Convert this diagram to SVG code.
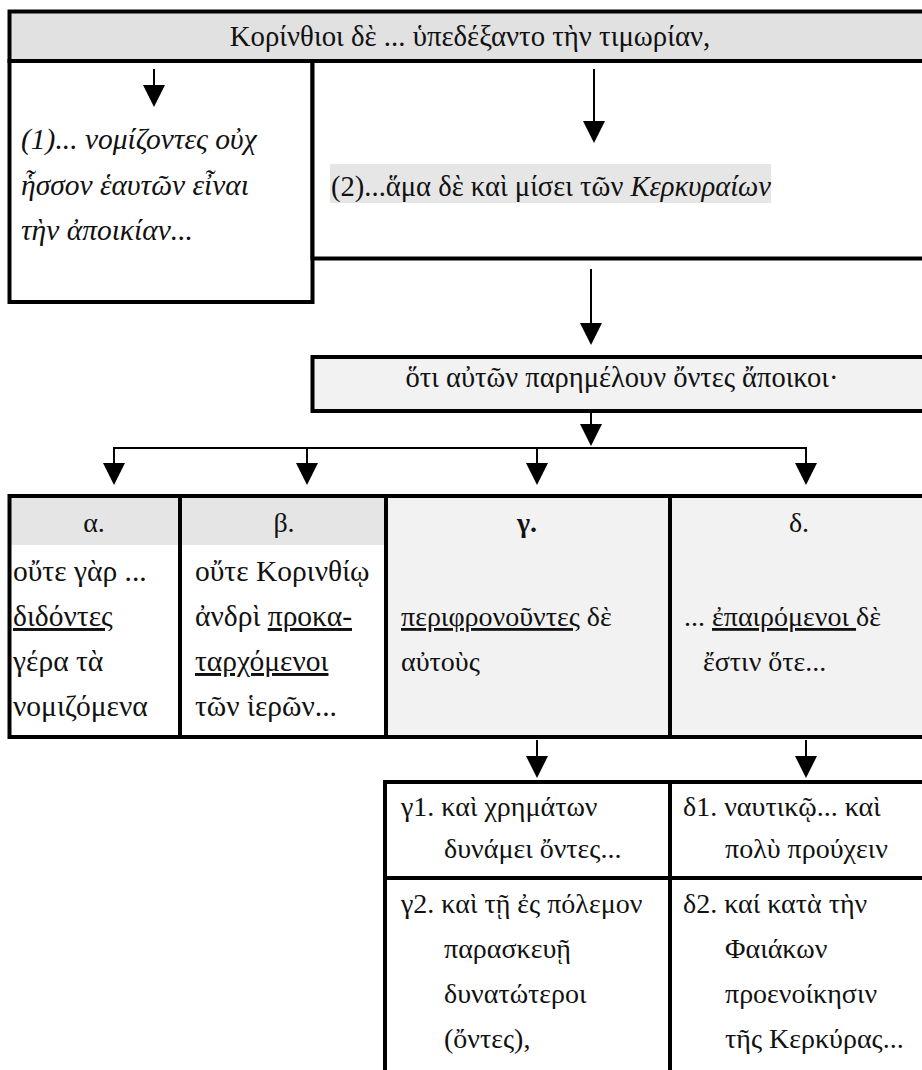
<svg xmlns="http://www.w3.org/2000/svg" width="922" height="1070" viewBox="0 0 922 1070" font-family="Liberation Serif, DejaVu Serif, serif" font-size="28">
<defs>
<marker id="ah" viewBox="0 0 22 22" refX="17" refY="11" markerWidth="22" markerHeight="22" markerUnits="userSpaceOnUse" orient="auto">
<path d="M0,0 L22,11 L0,22 Z" fill="#000"/>
</marker>
<style>
text{fill:#111}
.i{font-style:italic}
.b{font-weight:bold}
.c{text-anchor:middle}
.u{text-decoration:underline}
.box{stroke:#000;stroke-width:4}
.ln{stroke:#000;stroke-width:2;fill:none}
</style>
</defs>
<rect width="922" height="1070" fill="#fff"/>
<g id="header">
<rect class="box" x="9.5" y="11.5" width="925" height="49.5" fill="#e1e1e1"/>
<text class="c" x="470" y="46" font-size="28.8">Κορίνθιοι δὲ ... ὑπεδέξαντο τὴν τιμωρίαν,</text>
</g>
<g id="reason1">
<rect class="box" x="9.5" y="61" width="303" height="241" fill="#fff"/>
<text class="i" x="21" y="149" font-size="29.5">(1)... νομίζοντες οὐχ</text>
<text class="i" x="21" y="195" font-size="29.5">ἧσσον ἑαυτῶν εἶναι</text>
<text class="i" x="21" y="240" font-size="29.5">τὴν ἀποικίαν...</text>
</g>
<g id="reason2">
<rect class="box" x="312.5" y="61" width="622" height="197.5" fill="#fff"/>
<rect x="330" y="164" width="441" height="39" fill="#e6e6e6"/>
<text x="331" y="196" font-size="28.6">(2)...ἅμα δὲ καὶ μίσει τῶν <tspan class="i">Κερκυραίων</tspan></text>
</g>
<g id="cause">
<rect class="box" x="312.5" y="357" width="622" height="54" fill="#f2f2f2"/>
<text class="c" x="622" y="387" font-size="28.5">ὅτι αὐτῶν παρημέλουν ὄντες ἄποικοι·</text>
</g>
<g id="table1">
<rect x="11" y="498" width="168" height="47" fill="#e5e5e5"/>
<rect x="181" y="498" width="204" height="47" fill="#e5e5e5"/>
<rect x="387" y="498" width="282" height="238" fill="#f2f2f2"/>
<rect x="671" y="498" width="260" height="238" fill="#f2f2f2"/>
<rect class="box" x="9.5" y="496" width="925" height="241" fill="none"/>
<line class="box" x1="180" y1="496" x2="180" y2="737"/>
<line class="box" x1="386" y1="496" x2="386" y2="737"/>
<line class="box" x1="670" y1="496" x2="670" y2="737"/>
</g>
<g id="alpha" font-size="29.5">
<text class="c" x="94" y="532" font-size="28">α.</text>
<text x="13" y="581">οὔτε γὰρ ...</text>
<text x="13" y="626"><tspan class="u">διδόντες</tspan></text>
<text x="13" y="671">γέρα τὰ</text>
<text x="13" y="716">νομιζόμενα</text>
</g>
<g id="beta" font-size="29.5">
<text class="c" x="284" y="532" font-size="28">β.</text>
<text x="195" y="581">οὔτε Κορινθίῳ</text>
<text x="195" y="626">ἀνδρὶ <tspan class="u">προκα-</tspan></text>
<text x="195" y="671"><tspan class="u">ταρχόμενοι</tspan></text>
<text x="195" y="716">τῶν ἱερῶν...</text>
</g>
<g id="gamma">
<text class="c b" x="527" y="532">γ.</text>
<text x="401" y="626"><tspan class="u">περιφρονοῦντες</tspan> δὲ</text>
<text x="401" y="671">αὐτοὺς</text>
</g>
<g id="delta">
<text class="c" x="799" y="532">δ.</text>
<text x="684" y="626">... <tspan class="u">ἐπαιρόμενοι </tspan>δὲ</text>
<text x="703" y="671">ἔστιν ὅτε...</text>
</g>
<g id="table2">
<rect class="box" x="385" y="782" width="560" height="300" fill="#fff"/>
<line class="box" x1="670" y1="782" x2="670" y2="1075"/>
<line class="box" x1="385" y1="878" x2="935" y2="878"/>
</g>
<g id="gamma1">
<text x="401" y="816">γ1. καὶ χρημάτων</text>
<text x="444" y="858">δυνάμει ὄντες...</text>
</g>
<g id="gamma2">
<text x="401" y="913">γ2. καὶ τῇ ἐς πόλεμον</text>
<text x="444" y="958">παρασκευῇ</text>
<text x="444" y="1003">δυνατώτεροι</text>
<text x="444" y="1048">(ὄντες),</text>
</g>
<g id="delta1">
<text x="683" y="816">δ1. ναυτικῷ... καὶ</text>
<text x="725" y="858">πολὺ προύχειν</text>
</g>
<g id="delta2">
<text x="683" y="913">δ2. καί κατὰ τὴν</text>
<text x="725" y="958">Φαιάκων</text>
<text x="725" y="1003">προενοίκησιν</text>
<text x="725" y="1048">τῆς Κερκύρας...</text>
</g>
<g id="connectors">
<line class="ln" x1="154" y1="69" x2="154" y2="102" marker-end="url(#ah)"/>
<line class="ln" x1="594" y1="69" x2="594" y2="138" marker-end="url(#ah)"/>
<line class="ln" x1="591" y1="269" x2="591" y2="340" marker-end="url(#ah)"/>
<line class="ln" x1="591" y1="411" x2="591" y2="441" marker-end="url(#ah)"/>
<line class="ln" x1="114" y1="448" x2="806" y2="448"/>
<line class="ln" x1="114" y1="447" x2="114" y2="480" marker-end="url(#ah)"/>
<line class="ln" x1="307" y1="448" x2="307" y2="480" marker-end="url(#ah)"/>
<line class="ln" x1="537" y1="448" x2="537" y2="480" marker-end="url(#ah)"/>
<line class="ln" x1="806" y1="447" x2="806" y2="480" marker-end="url(#ah)"/>
<line class="ln" x1="537" y1="740" x2="537" y2="773" marker-end="url(#ah)"/>
<line class="ln" x1="806" y1="740" x2="806" y2="773" marker-end="url(#ah)"/>
</g>
</svg>
